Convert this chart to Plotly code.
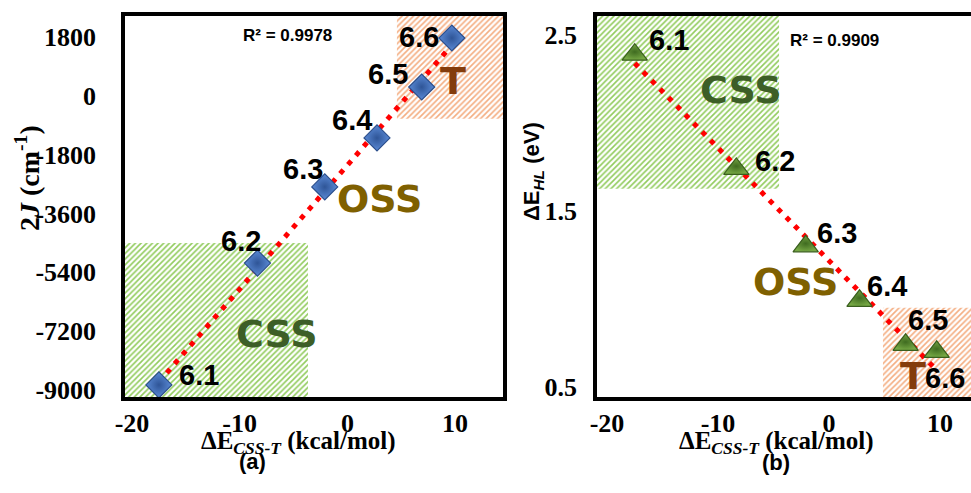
import numpy as np
import plotly.graph_objects as go

# ---------------- data ----------------
dE_css_t = [-17.5, -8.35, -2.1, 2.75, 6.9, 9.7]          # kcal/mol
two_J = [-8850, -5120, -2790, -1290, 270, 1770]           # cm-1
dE_hl = [2.39, 1.74, 1.30, 0.99, 0.74, 0.70]              # eV
point_labels = ["6.1", "6.2", "6.3", "6.4", "6.5", "6.6"]
r2_a = "R² = 0.9978"
r2_b = "R² = 0.9909"
x_ticks = [-20, -10, 0, 10]
x_ticktext = ["-20", "-10", "0", "10"]
y_ticks_a = [-9000, -7200, -5400, -3600, -1800, 0, 1800]
y_ticktext_a = ["-9000", "-7200", "-5400", "-3600", "-1800", "0", "1800"]
y_ticks_b = [0.5, 1.5, 2.5]
y_ticktext_b = ["0.5", "1.5", "2.5"]

# ---------------- layout constants ----------------
W, H = 971, 493
XA_RANGE = [-20.65, 14.45]
YA_RANGE = [-9220, 2443]
XB_RANGE = [-20.9, 12.79]
YB_RANGE = [0.443, 2.61]
XA_DOM = [125 / W, 503 / W]
XB_DOM = [597 / W, 1.0]
Y_DOM = [96 / H, 477 / H]

# label offsets in px (xshift, yshift)
off_a = [(40, 10), (-16, 22), (-22, 18), (-25, 18), (-34, 13), (-33, 1)]
off_b = [(34, 15), (39, 8), (31, 13), (27, 15), (22, 25), (8, -26)]

GREEN_HATCH = dict(shape="/", fgcolor="#92CC5E", bgcolor="white", size=4, solidity=0.4)
ORANGE_HATCH = dict(shape="/", fgcolor="#F4AE82", bgcolor="white", size=4, solidity=0.4)

fig = go.Figure()


def region(x0, x1, y0, y1, pat, xa, ya):
    fig.add_trace(go.Scatter(
        x=[x0, x1, x1, x0, x0], y=[y0, y0, y1, y1, y0],
        fill="toself", mode="lines", line=dict(width=0),
        fillcolor="white", fillpattern=pat,
        hoverinfo="skip", showlegend=False, xaxis=xa, yaxis=ya))


# hatched regions
region(XA_RANGE[0], -3.66, YA_RANGE[0], -4506, GREEN_HATCH, "x", "y")
region(4.6, XA_RANGE[1], -701, YA_RANGE[1], ORANGE_HATCH, "x", "y")
region(XB_RANGE[0], -4.5, 1.628, YB_RANGE[1], GREEN_HATCH, "x2", "y2")
region(4.86, XB_RANGE[1] + 1, YB_RANGE[0], 0.95, ORANGE_HATCH, "x2", "y2")


def trend(x, y, xa, ya):
    xs = np.array(x, dtype=float)
    ys = np.array(y, dtype=float)
    m, b = np.polyfit(xs, ys, 1)
    xl = np.array([xs.min(), xs.max()])
    fig.add_trace(go.Scatter(
        x=xl, y=m * xl + b, mode="lines",
        line=dict(color="#FF0000", width=5, dash="5px,7px"),
        hoverinfo="skip", showlegend=False, xaxis=xa, yaxis=ya))


trend(dE_css_t, two_J, "x", "y")
trend(dE_css_t, dE_hl, "x2", "y2")

fig.add_trace(go.Scatter(
    x=dE_css_t, y=two_J, mode="markers",
    marker=dict(symbol="diamond", size=20, color="#5A8AD6",
                line=dict(color="#2C4F8C", width=1.2),
                gradient=dict(type="radial", color="#2F5597")),
    showlegend=False, xaxis="x", yaxis="y"))

fig.add_trace(go.Scatter(
    x=dE_css_t, y=dE_hl, mode="markers",
    marker=dict(symbol="triangle-up", size=22, color="#76A844",
                line=dict(color="#3A5F1E", width=1.2),
                gradient=dict(type="radial", color="#3F6B20")),
    showlegend=False, xaxis="x2", yaxis="y2"))

ann = []
lab_font = dict(family="Liberation Sans", size=29, color="black", weight="bold")
for i, lab in enumerate(point_labels):
    ann.append(dict(x=dE_css_t[i], y=two_J[i], xref="x", yref="y", text=lab,
                    showarrow=False, xanchor="center", yanchor="middle",
                    xshift=off_a[i][0], yshift=off_a[i][1], font=lab_font))
    ann.append(dict(x=dE_css_t[i], y=dE_hl[i], xref="x2", yref="y2", text=lab,
                    showarrow=False, xanchor="center", yanchor="middle",
                    xshift=off_b[i][0], yshift=off_b[i][1], font=lab_font))


def txt(text, x, y, xr, yr, font, angle=0):
    ann.append(dict(x=x, y=y, xref=xr, yref=yr, text=text, showarrow=False,
                    xanchor="center", yanchor="middle", textangle=angle, font=font))


def region_font(color):
    return dict(family="DejaVu Sans", size=38, color=color, weight="bold")


txt("CSS", 0.402, 0.165, "x domain", "y domain", region_font("#3D5E27"))
txt("OSS", 0.672, 0.520, "x domain", "y domain", region_font("#7F6000"))
txt("T", 0.868, 0.829, "x domain", "y domain", region_font("#843C0C"))
txt("CSS", 0.385, 0.806, "x2 domain", "y2 domain", region_font("#3D5E27"))
txt("OSS", 0.532, 0.302, "x2 domain", "y2 domain", region_font("#7F6000"))
txt("T", 0.845, 0.055, "x2 domain", "y2 domain", region_font("#843C0C"))

r2_font = dict(family="Liberation Sans", size=17, color="black", weight="bold")
txt(r2_a, 0.429, 0.950, "x domain", "y domain", r2_font)
txt(r2_b, 0.634, 0.937, "x2 domain", "y2 domain", r2_font)

serif = dict(family="Liberation Serif", size=25, color="black", weight="bold")
serif_y = dict(family="Liberation Serif", size=28, color="black", weight="bold")
sans22 = dict(family="Liberation Sans", size=22, color="black", weight="bold")
xtitle = "ΔE<sub><i>CSS-T</i></sub> (kcal/mol)"
txt(xtitle, 298 / W, 1 - 442 / H, "paper", "paper", serif)
txt(xtitle, 776 / W, 1 - 442 / H, "paper", "paper", serif)
txt("(a)", 252 / W, 1 - 461 / H, "paper", "paper", sans22)
txt("(b)", 776 / W, 1 - 462 / H, "paper", "paper", sans22)
txt("2<i>J</i> (cm<sup>-1</sup>)", 27 / W, 1 - 178 / H, "paper", "paper", serif_y, -90)
txt("ΔE<sub><i>HL</i></sub> (eV)", 533 / W, 1 - 172 / H, "paper", "paper", sans22, -90)

tickfont = dict(family="Liberation Serif", size=26, color="black", weight="bold")
axis_common = dict(showgrid=False, zeroline=False, showline=True, linecolor="black",
                   linewidth=3.5, ticks="outside", tickcolor="rgba(0,0,0,0)",
                   tickfont=tickfont, automargin=False)

fig.update_layout(
    template="none",
    width=W, height=H, margin=dict(l=0, r=0, t=0, b=0, pad=0),
    paper_bgcolor="white", plot_bgcolor="white", showlegend=False,
    xaxis=dict(domain=XA_DOM, range=XA_RANGE, tickvals=x_ticks, ticktext=x_ticktext,
               mirror=True, anchor="y", ticklen=0, **axis_common),
    yaxis=dict(domain=Y_DOM, range=YA_RANGE, tickvals=y_ticks_a, ticktext=y_ticktext_a,
               mirror=True, anchor="x", ticklen=20, **axis_common),
    xaxis2=dict(domain=XB_DOM, range=XB_RANGE, tickvals=x_ticks, ticktext=x_ticktext,
                mirror=True, anchor="y2", ticklen=0, **axis_common),
    yaxis2=dict(domain=Y_DOM, range=YB_RANGE, tickvals=y_ticks_b, ticktext=y_ticktext_b,
                mirror=False, anchor="x2", ticklen=11, **axis_common),
    annotations=ann,
)

fig.write_html("out.html")
